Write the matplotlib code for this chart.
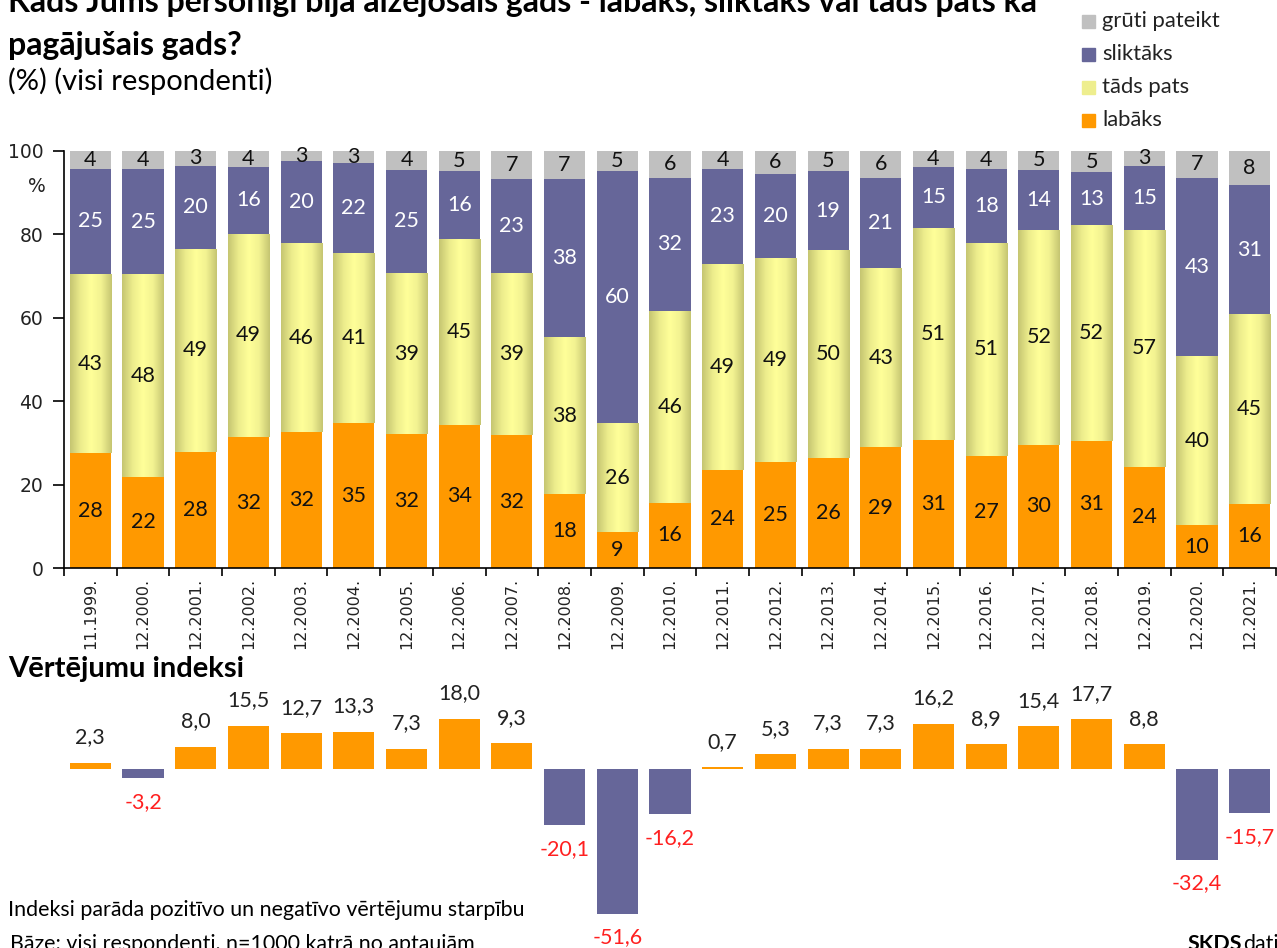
import numpy as np
import matplotlib
matplotlib.use("Agg")
import matplotlib.pyplot as plt
from matplotlib.colors import LinearSegmentedColormap

periods = ["11.1999.", "12.2000.", "12.2001.", "12.2002.", "12.2003.", "12.2004.",
           "12.2005.", "12.2006.", "12.2007.", "12.2008.", "12.2009.", "12.2010.",
           "12.2011.", "12.2012.", "12.2013.", "12.2014.", "12.2015.", "12.2016.",
           "12.2017.", "12.2018.", "12.2019.", "12.2020.", "12.2021."]

# labels as printed on the bars
labaks = [28, 22, 28, 32, 32, 35, 32, 34, 32, 18, 9, 16, 24, 25, 26, 29, 31, 27, 30, 31, 24, 10, 16]
tads_pats = [43, 48, 49, 49, 46, 41, 39, 45, 39, 38, 26, 46, 49, 49, 50, 43, 51, 51, 52, 52, 57, 40, 45]
sliktaks = [25, 25, 20, 16, 20, 22, 25, 16, 23, 38, 60, 32, 23, 20, 19, 21, 15, 18, 14, 13, 15, 43, 31]
gruti = [4, 4, 3, 4, 3, 3, 4, 5, 7, 7, 5, 6, 4, 6, 5, 6, 4, 4, 5, 5, 3, 7, 8]

# segment heights (unrounded)
labaks_h = [27.5, 21.9, 27.8, 31.4, 32.5, 34.7, 32.1, 34.4, 31.8, 17.7, 8.6, 15.7,
            23.6, 25.3, 26.3, 28.9, 30.8, 26.9, 29.5, 30.5, 24.3, 10.2, 15.4]
tads_h = [42.9, 48.5, 48.8, 48.8, 45.4, 40.9, 38.6, 44.4, 38.9, 37.6, 26.1, 45.9,
          49.4, 49.0, 49.9, 43.1, 50.7, 51.0, 51.6, 51.7, 56.8, 40.6, 45.4]
slikt_h = [25.4, 25.2, 19.9, 16.0, 19.6, 21.6, 24.8, 16.4, 22.6, 38.0, 60.5, 32.0,
           22.8, 20.3, 19.0, 21.6, 14.7, 17.9, 14.4, 12.7, 15.4, 42.8, 31.1]
gruti_h = [4.2, 4.4, 3.5, 3.8, 2.5, 2.8, 4.5, 4.8, 6.7, 6.7, 4.8, 6.4,
           4.2, 5.4, 4.8, 6.4, 3.8, 4.2, 4.5, 5.1, 3.5, 6.4, 8.1]

indekss = [2.3, -3.2, 8.0, 15.5, 12.7, 13.3, 7.3, 18.0, 9.3, -20.1, -51.6, -16.2, 0.7,
           5.3, 7.3, 7.3, 16.2, 8.9, 15.4, 17.7, 8.8, -32.4, -15.7]

ORANGE = "#FF9900"
YELLOW = "#FFFF99"
PURPLE = "#666699"
GRAY = "#C0C0C0"
LBL = "Lato"
TICKF = "DejaVu Sans"
yel_cmap = LinearSegmentedColormap.from_list(
    "yel", ["#C6C672", "#ECEC8C", "#FFFF99", "#F2F291", "#C6C672"])

fig = plt.figure(figsize=(12.77, 9.48), dpi=100)
ax = fig.add_axes([64 / 1277, 1 - 568 / 948, 1212 / 1277, 417 / 948])
ax2 = fig.add_axes([64 / 1277, 0, 1212 / 1277, 258 / 948])

x = np.arange(len(periods))
w = 0.78
b1 = np.array(labaks_h)
b2 = b1 + np.array(tads_h)
b3 = b2 + np.array(slikt_h)

ax.bar(x, labaks_h, w, color=ORANGE, zorder=2)
ybars = ax.bar(x, tads_h, w, bottom=b1, color=YELLOW, zorder=2)
ax.bar(x, slikt_h, w, bottom=b2, color=PURPLE, zorder=2)
ax.bar(x, gruti_h, w, bottom=b3, color=GRAY, zorder=2)

# gradient fill for the yellow segments
grad = np.linspace(0, 1, 64).reshape(1, -1)
for r in ybars:
    x0, y0 = r.get_x(), r.get_y()
    im = ax.imshow(grad, cmap=yel_cmap, aspect="auto", zorder=2.5,
                   extent=(x0, x0 + r.get_width(), y0, y0 + r.get_height()))
    im.set_clip_path(r)

fs = 15.5
for i in x:
    ax.text(i, b1[i] / 2, str(labaks[i]), ha="center", va="center",
            fontsize=fs, family=LBL, color="#111111", zorder=4)
    ax.text(i, b1[i] + tads_h[i] / 2, str(tads_pats[i]), ha="center", va="center",
            fontsize=fs, family=LBL, color="#111111", zorder=4)
    ax.text(i, b2[i] + slikt_h[i] / 2, str(sliktaks[i]), ha="center", va="center",
            fontsize=fs, family=LBL, color="white", zorder=4)
    ax.text(i, b3[i] + gruti_h[i] / 2, str(gruti[i]), ha="center", va="center",
            fontsize=fs, family=LBL, color="#111111", zorder=4)

ax.set_xlim(-0.5, len(periods) - 0.5)
ax.set_ylim(0, 100)
ax.set_yticks([0, 20, 40, 60, 80, 100])
ax.tick_params(axis="y", labelsize=13.5, length=8, width=1.2, pad=7)
ax.set_xticks(x)
ax.set_xticklabels(periods, rotation=90, fontsize=11.5, family=TICKF, color="#222222")
ax.tick_params(axis="x", length=0, pad=7)
ax.set_xticks(np.arange(-0.5, len(periods), 1), minor=True)
ax.tick_params(axis="x", which="minor", length=6, width=1.2)
for s in ["top", "right"]:
    ax.spines[s].set_visible(False)
for s in ["left", "bottom"]:
    ax.spines[s].set_linewidth(1.2)
for t in ax.get_yticklabels():
    t.set_family(TICKF)
    t.set_color("#222222")

# index chart
cols = [ORANGE if v >= 0 else PURPLE for v in indekss]
ax2.bar(x, indekss, 0.78, color=cols)
for i, v in enumerate(indekss):
    txt = f"{v:.1f}".replace(".", ",")
    if v >= 0:
        ax2.text(i, v + 9, txt, ha="center", va="center", fontsize=fs, family=LBL, color="#222222")
    else:
        ax2.text(i, v - 8.5, txt, ha="center", va="center", fontsize=fs, family=LBL, color="#FF2020")
ax2.set_xlim(-0.5, len(periods) - 0.5)
ax2.set_ylim(-63.9, 28.2)
ax2.axis("off")

# titles and notes
fig.text(8 / 1277, 1 - 12 / 948, "Kāds Jums personīgi bija aizejošais gads - labāks, sliktāks vai tāds pats kā",
         fontsize=23, fontweight="bold", family=LBL, va="baseline")
fig.text(8 / 1277, 1 - 55 / 948, "pagājušais gads?", fontsize=23, fontweight="bold",
         family=LBL, va="baseline")
fig.text(8 / 1277, 1 - 90 / 948, "(%) (visi respondenti)", fontsize=21, family=LBL, va="baseline")
fig.text(37 / 1277, 1 - 187 / 948, "%", fontsize=13.5, family=TICKF, ha="center", va="center",
         color="#222222")
fig.text(8 / 1277, 1 - 677 / 948, "Vērtējumu indeksi", fontsize=21, fontweight="bold",
         family=LBL, va="baseline")
fig.text(8 / 1277, 1 - 910 / 948, "Indeksi parāda pozitīvo un negatīvo vērtējumu starpību",
         fontsize=15.4, family=LBL, va="center")
fig.text(10 / 1277, 1 - 944 / 948, "Bāze: visi respondenti, n=1000 katrā no aptaujām",
         fontsize=15.4, family=LBL, va="center")
fig.text(1188 / 1277, 1 - 944 / 948, "SKDS", fontsize=15.4, fontweight="bold", family=LBL, va="center")
fig.text(1243 / 1277, 1 - 944 / 948, "dati", fontsize=15.4, family=LBL, va="center")

# legend
leg_items = [("grūti pateikt", GRAY), ("sliktāks", PURPLE), ("tāds pats", "#EEEE8E"), ("labāks", ORANGE)]
for k, (name, c) in enumerate(leg_items):
    yy = 1 - (21 + k * 33) / 948
    fig.patches.append(plt.Rectangle((1082 / 1277, yy - 6.5 / 948), 13 / 1277, 13 / 948,
                                     transform=fig.transFigure, color=c))
    fig.text(1102 / 1277, yy, name, fontsize=15.8, family=LBL, va="center", color="#222222")

fig.savefig("out.png", dpi=100)
